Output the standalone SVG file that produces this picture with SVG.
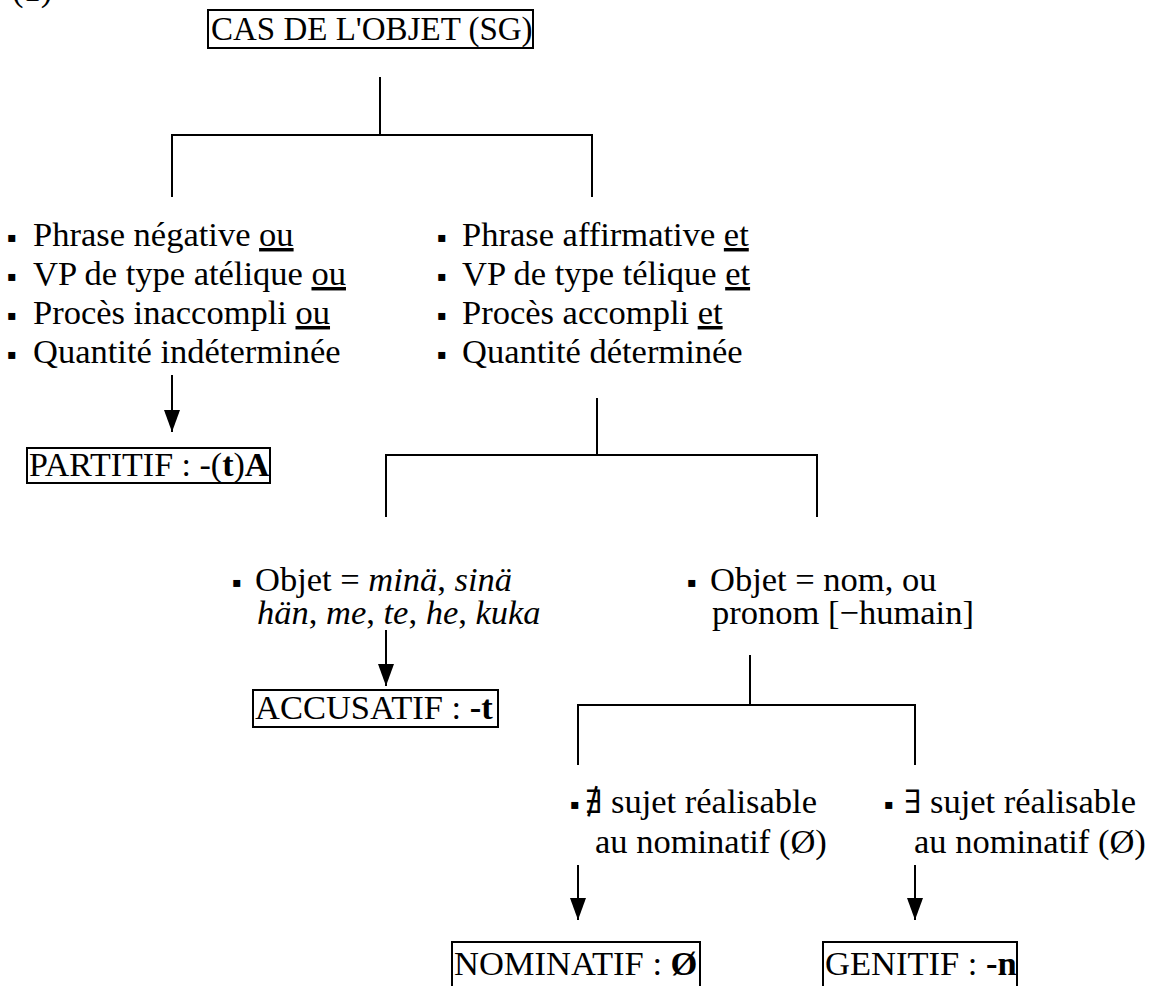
<svg xmlns="http://www.w3.org/2000/svg" width="1165" height="986" viewBox="0 0 1165 986">
<style>
text{font-family:"Liberation Serif","Times New Roman",serif;font-size:34.5px;fill:#000}
.t{font-size:33px}
.p{font-size:34px}
.bul{font-size:28px}
.it{font-style:italic}
.bd{font-weight:bold}
.sym{font-family:"DejaVu Serif","Liberation Serif",serif;font-size:32px}
.u{text-decoration:underline}
.box{fill:#fff;stroke:#000;stroke-width:2}
.ln{fill:none;stroke:#000;stroke-width:2}
</style>
<defs>
<marker id="ah" viewBox="0 0 22 16" refX="22" refY="8" markerWidth="22" markerHeight="16" markerUnits="userSpaceOnUse" orient="auto">
<path d="M0,0 L22,8 L0,16 z" fill="#000"/>
</marker>
</defs>
<text x="12" y="1">(1)</text>
<g id="connectors">
<path class="ln" d="M380,77 V135"/>
<path class="ln" d="M172,197 V135 H592 V197"/>
<path class="ln" d="M172,375 V432" marker-end="url(#ah)"/>
<path class="ln" d="M597,398 V455"/>
<path class="ln" d="M386,517 V455 H817 V517"/>
<path class="ln" d="M386,630 V686" marker-end="url(#ah)"/>
<path class="ln" d="M750,655 V705"/>
<path class="ln" d="M578,765 V705 H915 V765"/>
<path class="ln" d="M578,865 V920" marker-end="url(#ah)"/>
<path class="ln" d="M915,865 V920" marker-end="url(#ah)"/>
</g>
<g id="root">
<rect class="box" x="208" y="10" width="325" height="38"/>
<text class="t" x="211" y="40">CAS DE L'OBJET (SG)</text>
</g>
<g id="cond-left">
<text class="bul" x="7" y="247">▪</text>
<text x="33" y="246">Phrase négative <tspan class="u">ou</tspan></text>
<text class="bul" x="7" y="286">▪</text>
<text x="33" y="285">VP de type atélique <tspan class="u">ou</tspan></text>
<text class="bul" x="7" y="325">▪</text>
<text x="33" y="324">Procès inaccompli <tspan class="u">ou</tspan></text>
<text class="bul" x="7" y="364">▪</text>
<text x="33" y="363">Quantité indéterminée</text>
</g>
<g id="cond-right">
<text class="bul" x="437" y="247">▪</text>
<text x="462" y="246">Phrase affirmative <tspan class="u">et</tspan></text>
<text class="bul" x="437" y="286">▪</text>
<text x="462" y="285">VP de type télique <tspan class="u">et</tspan></text>
<text class="bul" x="437" y="325">▪</text>
<text x="462" y="324">Procès accompli <tspan class="u">et</tspan></text>
<text class="bul" x="437" y="364">▪</text>
<text x="462" y="363">Quantité déterminée</text>
</g>
<g id="partitif">
<rect class="box" x="27" y="448" width="243" height="35"/>
<text class="p" x="29" y="476">PARTITIF : -(<tspan class="bd">t</tspan>)<tspan class="bd">A</tspan></text>
</g>
<g id="obj-pron">
<text class="bul" x="232" y="592">▪</text>
<text x="255" y="591">Objet = <tspan class="it">minä</tspan>, <tspan class="it">sinä</tspan></text>
<text x="257" y="624"><tspan class="it">hän</tspan>, <tspan class="it">me</tspan>, <tspan class="it">te</tspan>, <tspan class="it">he</tspan>, <tspan class="it">kuka</tspan></text>
</g>
<g id="obj-nom">
<text class="bul" x="687" y="592">▪</text>
<text x="710" y="591">Objet = nom, ou</text>
<text x="712" y="624">pronom [−humain]</text>
</g>
<g id="accusatif">
<rect class="box" x="253" y="690" width="245" height="37"/>
<text x="255" y="719">ACCUSATIF : <tspan class="bd">-t</tspan></text>
</g>
<g id="no-subj">
<text class="bul" x="570" y="814">▪</text>
<text x="585" y="813"><tspan class="sym">∄</tspan> sujet réalisable</text>
<text x="595" y="853">au nominatif (Ø)</text>
</g>
<g id="subj">
<text class="bul" x="884" y="814">▪</text>
<text x="904" y="813"><tspan class="sym">∃</tspan> sujet réalisable</text>
<text x="914" y="853">au nominatif (Ø)</text>
</g>
<g id="nominatif">
<rect class="box" x="452" y="942" width="248" height="60"/>
<text x="454" y="975">NOMINATIF : <tspan class="bd">Ø</tspan></text>
</g>
<g id="genitif">
<rect class="box" x="823" y="942" width="194" height="60"/>
<text x="825" y="975">GENITIF : <tspan class="bd">-n</tspan></text>
</g>
</svg>
